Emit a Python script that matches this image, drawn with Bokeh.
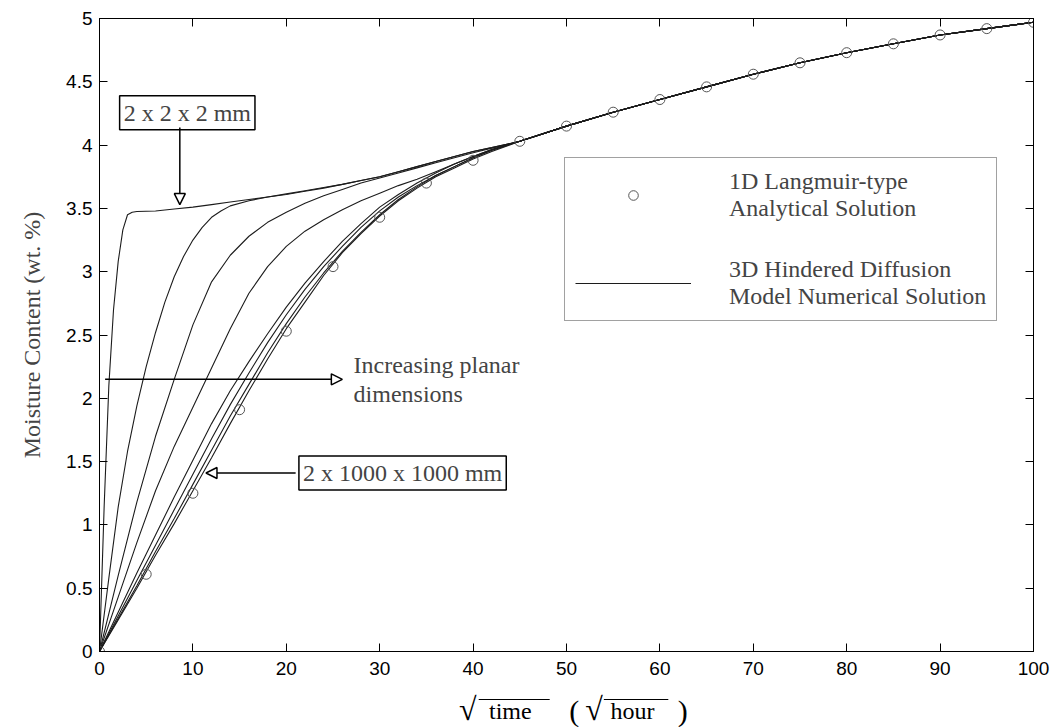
from bokeh.plotting import figure
from bokeh.layouts import column
from bokeh.models import (Range1d, LinearAxis, FixedTicker, Arrow, NormalHead,
                          Label, Legend, LegendItem)
from bokeh.core.properties import value
from bokeh.embed import file_html
from bokeh.resources import INLINE

# ---------------- data ----------------
# 1D Langmuir-type analytical solution (circles)
analytic_x = [0, 5, 10, 15, 20, 25, 30, 35, 40, 45, 50, 55, 60, 65, 70, 75, 80, 85, 90, 95, 100]
analytic_y = [0, 0.61, 1.25, 1.91, 2.53, 3.04, 3.43, 3.70, 3.88, 4.03, 4.15, 4.26, 4.36,
              4.46, 4.56, 4.65, 4.73, 4.80, 4.87, 4.92, 4.97]

# common part of all numerical curves (x >= 50)
tail_x = [50, 55, 60, 65, 70, 75, 80, 85, 90, 95, 100]
tail_y = [4.15, 4.26, 4.36, 4.46, 4.56, 4.65, 4.73, 4.80, 4.87, 4.92, 4.97]

# 3D hindered diffusion numerical solutions, smallest (2 x 2 x 2 mm) to largest planar size
c1_x = [0, 0.5, 1.0, 1.5, 2.0, 2.5, 3.0, 3.5, 4, 6, 8, 10, 12, 14, 16, 18, 20, 22, 24, 26,
        28, 30, 32, 34, 36, 38, 40, 42, 45]
c1_y = [0, 1.15, 2.10, 2.70, 3.08, 3.33, 3.45, 3.47, 3.475, 3.48, 3.495, 3.51, 3.53, 3.55,
        3.57, 3.59, 3.61, 3.635, 3.66, 3.69, 3.72, 3.75, 3.79, 3.83, 3.87, 3.91, 3.95, 3.98, 4.03]

c2_x = [0, 1, 2, 3, 4, 5, 6, 7, 8, 9, 10, 11, 12, 13, 14, 16, 18, 20, 22, 24, 26, 28, 30,
        32, 34, 36, 38, 40, 42, 45]
c2_y = [0, 0.58, 1.14, 1.58, 1.94, 2.25, 2.52, 2.76, 2.96, 3.12, 3.25, 3.35, 3.43, 3.48,
        3.52, 3.56, 3.59, 3.615, 3.64, 3.665, 3.69, 3.72, 3.75, 3.79, 3.83, 3.87, 3.91, 3.95,
        3.98, 4.03]

grid_x = [0, 2, 4, 6, 8, 10, 12, 14, 16, 18, 20, 22, 24, 26, 28, 30, 32, 34, 36, 38, 40, 42, 45]
c3_y = [0, 0.60, 1.18, 1.70, 2.15, 2.58, 2.92, 3.13, 3.28, 3.39, 3.47, 3.54, 3.60, 3.65,
        3.70, 3.74, 3.78, 3.82, 3.86, 3.90, 3.94, 3.975, 4.03]
c4_y = [0, 0.43, 0.86, 1.27, 1.62, 1.93, 2.24, 2.55, 2.83, 3.04, 3.20, 3.32, 3.41, 3.49,
        3.56, 3.62, 3.68, 3.73, 3.79, 3.85, 3.91, 3.965, 4.03]
c5_y = [0, 0.31, 0.62, 0.92, 1.22, 1.51, 1.80, 2.06, 2.29, 2.51, 2.72, 2.91, 3.08, 3.24,
        3.38, 3.51, 3.61, 3.70, 3.78, 3.85, 3.91, 3.965, 4.03]
c6_y = [0, 0.28, 0.56, 0.84, 1.12, 1.40, 1.68, 1.95, 2.20, 2.44, 2.66, 2.86, 3.04, 3.20,
        3.35, 3.48, 3.59, 3.68, 3.76, 3.83, 3.90, 3.96, 4.03]
c7_y = [0, 0.26, 0.52, 0.79, 1.05, 1.32, 1.59, 1.86, 2.11, 2.36, 2.59, 2.80, 2.99, 3.16,
        3.31, 3.45, 3.57, 3.67, 3.76, 3.83, 3.90, 3.96, 4.03]
c8_y = [0, 0.25, 0.50, 0.76, 1.01, 1.27, 1.53, 1.80, 2.06, 2.31, 2.55, 2.76, 2.97, 3.15,
        3.30, 3.44, 3.56, 3.66, 3.75, 3.82, 3.89, 3.95, 4.03]

x_ticks = [0, 10, 20, 30, 40, 50, 60, 70, 80, 90, 100]
y_ticks = [0, 0.5, 1, 1.5, 2, 2.5, 3, 3.5, 4, 4.5, 5]
y_tick_labels = ["0", "0.5", "1", "1.5", "2", "2.5", "3", "3.5", "4", "4.5", "5"]

legend_labels = ["1D Langmuir-type\nAnalytical Solution",
                 "3D Hindered Diffusion\nModel Numerical Solution"]
ylabel = "Moisture Content (wt. %)"
xlabel_parts = ["\u221a", "time", "(", "\u221a", "hour", ")"]

# ---------------- main figure ----------------
SERIF = "Liberation Serif"
SANS = "Liberation Sans"
W = 1050

p = figure(width=W, height=686, output_backend="svg", toolbar_location=None,
           x_range=Range1d(0, 100), y_range=Range1d(0, 5),
           min_border_left=99, min_border_right=17, min_border_top=18, min_border_bottom=35)
p.grid.visible = False
p.outline_line_color = "black"
p.outline_line_width = 1
p.background_fill_color = "white"
p.border_fill_color = "white"

line_color = "#1c1c1c"
curves = [(c1_x, c1_y), (c2_x, c2_y), (grid_x, c3_y), (grid_x, c4_y), (grid_x, c5_y),
          (grid_x, c6_y), (grid_x, c7_y), (grid_x, c8_y)]
line_renderers = []
for cx, cy in curves:
    r = p.line(list(cx) + tail_x, list(cy) + tail_y, line_color=line_color, line_width=1.1)
    line_renderers.append(r)

circ = p.scatter(analytic_x, analytic_y, marker="circle", size=10, fill_color=None,
                 line_color="#555555", line_width=1)

def style_axis(ax, ticks, show_labels=True):
    ax.ticker = FixedTicker(ticks=ticks)
    ax.axis_line_color = "black"
    ax.major_tick_line_color = "black"
    ax.major_tick_in = 8
    ax.major_tick_out = 0
    ax.minor_tick_line_color = None
    if show_labels:
        ax.major_label_text_font = SANS
        ax.major_label_text_font_size = "19px"
        ax.major_label_text_color = "black"
    else:
        ax.major_label_text_font_size = "1px"
        ax.major_label_text_color = None
        ax.major_label_standoff = 0

style_axis(p.xaxis[0], x_ticks)
style_axis(p.yaxis[0], y_ticks)
p.yaxis[0].major_label_overrides = {t: s for t, s in zip(y_ticks, y_tick_labels)}
p.xaxis[0].major_label_standoff = 10
p.yaxis[0].major_label_standoff = 7

p.yaxis[0].axis_label = ylabel
p.yaxis[0].axis_label_text_font = SERIF
p.yaxis[0].axis_label_text_font_size = "24px"
p.yaxis[0].axis_label_text_font_style = "normal"
p.yaxis[0].axis_label_standoff = 18

top_ax = LinearAxis()
style_axis(top_ax, x_ticks, show_labels=False)
p.add_layout(top_ax, "above")
right_ax = LinearAxis()
style_axis(right_ax, y_ticks, show_labels=False)
p.add_layout(right_ax, "right")

# ---------------- annotations ----------------
def head():
    return NormalHead(size=11, fill_color="white", line_color="black", line_width=1.5)

p.add_layout(Label(x=9.4, y=4.255, text="2 x 2 x 2 mm", text_font=SERIF, text_font_size="24px",
                   text_align="center", text_baseline="middle", border_line_color="black",
                   border_line_width=1.5, background_fill_color="white", padding=4))
p.add_layout(Arrow(end=head(), start=None, x_start=8.6, y_start=4.14, x_end=8.6, y_end=3.53,
                   line_width=1.5, line_color="black"))

p.add_layout(Arrow(end=head(), start=None, x_start=0.6, y_start=2.15, x_end=26.0, y_end=2.15,
                   line_width=1.5, line_color="black"))
p.add_layout(Label(x=27.2, y=2.26, text="Increasing planar", text_font=SERIF,
                   text_font_size="24px", text_align="left", text_baseline="middle"))
p.add_layout(Label(x=27.2, y=2.035, text="dimensions", text_font=SERIF,
                   text_font_size="24px", text_align="left", text_baseline="middle"))

p.add_layout(Label(x=32.45, y=1.41, text="2 x 1000 x 1000 mm", text_font=SERIF,
                   text_font_size="24px", text_align="center", text_baseline="middle",
                   border_line_color="black", border_line_width=1.5,
                   background_fill_color="white", padding=4))
p.add_layout(Arrow(end=head(), start=None, x_start=21.0, y_start=1.41, x_end=11.4, y_end=1.41,
                   line_width=1.5, line_color="black"))

# ---------------- legend ----------------
legend = Legend(items=[LegendItem(label=legend_labels[0], renderers=[circ]),
                       LegendItem(label=legend_labels[1], renderers=[line_renderers[-1]])],
                location=(465, 330), orientation="vertical",
                label_text_font=SERIF, label_text_font_size="24px",
                label_text_line_height=1.3,
                glyph_width=116, glyph_height=24, label_standoff=38,
                padding=10, spacing=34, margin=0,
                border_line_color="#444444", border_line_width=1,
                background_fill_color="white", background_fill_alpha=1)
p.add_layout(legend, "center")

# ---------------- x-axis label strip (sqrt(time) (sqrt(hour))) ----------------
STRIP_H = 41
q = figure(width=W, height=STRIP_H, output_backend="svg", toolbar_location=None,
           x_range=Range1d(0, 100), y_range=Range1d(0, STRIP_H),
           min_border_left=99, min_border_right=17, min_border_top=0, min_border_bottom=0)
q.axis.visible = False
q.grid.visible = False
q.outline_line_color = None
q.border_fill_color = "white"
q.background_fill_color = "white"

# strip coordinates: y measured in pixels from the strip bottom
part_x = [38.5, 41.7, 50.3, 52.0, 54.7, 61.9]
part_y = [19, 17, 17, 19, 17, 17]
part_size = ["32px", "24px", "30px", "32px", "24px", "30px"]
for xx, yy, tt, ss in zip(part_x, part_y, xlabel_parts, part_size):
    q.text(x=[xx], y=[yy], text=[tt], text_font=value(SERIF), text_font_size=value(ss),
           text_align="left", text_baseline="alphabetic", text_color="black")
q.segment(x0=[40.6, 54.0], y0=[28, 28], x1=[48.2, 60.9], y1=[28, 28],
          line_color="black", line_width=1.2)

open("out.html", "w").write(file_html(column(p, q, spacing=0), INLINE))
